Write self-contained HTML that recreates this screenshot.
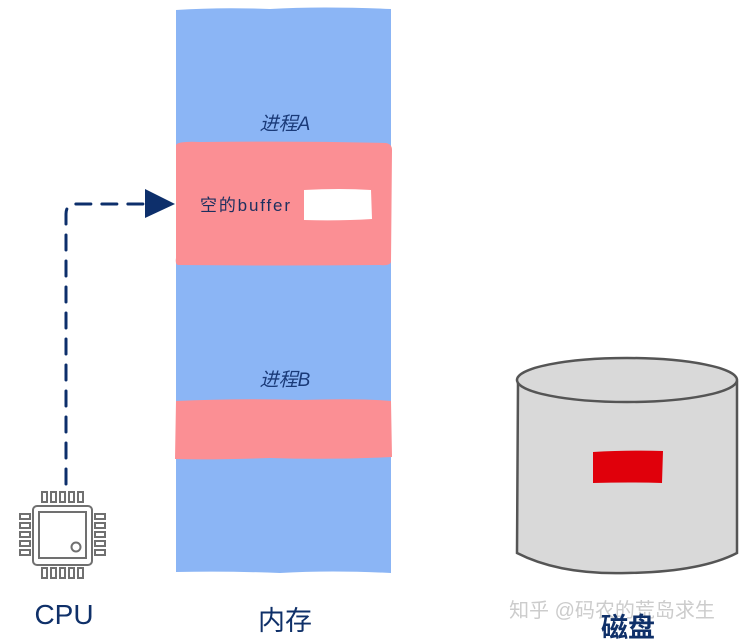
<!DOCTYPE html>
<html><head><meta charset="utf-8">
<style>
html,body{margin:0;padding:0;background:#fff;}
svg{display:block;}
</style></head>
<body>
<svg width="740" height="644" viewBox="0 0 740 644" xmlns="http://www.w3.org/2000/svg">
  <!-- memory column -->
  <path d="M176 10 Q220 7 270 9 Q320 6 391 9 L391 573 Q330 570 280 573 Q230 571 176 572 Z" fill="#8bb5f5"/>
  <!-- process A block -->
  <path d="M176 145 Q178 141 200 142 Q300 141 386 143 Q392 144 392 150 L391 262 Q390 266 380 265 Q280 266 178 265 Q175 264 176 258 Z" fill="#fb8f94"/>
  <path d="M304 190 Q340 188 371 190 L372 219 Q340 221 304 220 Z" fill="#ffffff"/>
  <!-- process B block -->
  <path d="M176 401 Q240 398 300 400 Q360 398 391 401 L392 457 Q330 460 270 458 Q210 460 175 459 Z" fill="#fb8f94"/>

  <text x="285" y="130" font-family="'Liberation Sans','Noto Sans CJK SC',sans-serif" font-size="19" font-style="italic" fill="#1a3a78" text-anchor="middle">进程A</text>
  <text x="200" y="211" font-family="'Liberation Sans','Noto Sans CJK SC',sans-serif" font-size="17" fill="#1c2f5e" textLength="90" lengthAdjust="spacing">空的buffer</text>
  <text x="285" y="386" font-family="'Liberation Sans','Noto Sans CJK SC',sans-serif" font-size="19" font-style="italic" fill="#1a3a78" text-anchor="middle">进程B</text>

  <!-- dashed connector -->
  <path d="M66 484 L66 214 Q66 204 76 204 L146 204" fill="none" stroke="#0d2f6b" stroke-width="3" stroke-dasharray="15 11" stroke-linecap="round"/>
  <polygon points="145,189 175,204 145,218" fill="#0d2f6b"/>

  <!-- CPU chip -->
  <g fill="none" stroke="#707070" stroke-width="2">
    <rect x="33" y="506" width="59" height="59" rx="4"/>
    <rect x="39" y="512" width="47" height="46"/>
    <circle cx="76" cy="547" r="4.5"/>
    <rect x="42" y="492" width="5" height="10"/>
    <rect x="51" y="492" width="5" height="10"/>
    <rect x="60" y="492" width="5" height="10"/>
    <rect x="69" y="492" width="5" height="10"/>
    <rect x="78" y="492" width="5" height="10"/>
    <rect x="42" y="568" width="5" height="10"/>
    <rect x="51" y="568" width="5" height="10"/>
    <rect x="60" y="568" width="5" height="10"/>
    <rect x="69" y="568" width="5" height="10"/>
    <rect x="78" y="568" width="5" height="10"/>
    <rect x="20" y="514" width="10" height="5"/>
    <rect x="20" y="523" width="10" height="5"/>
    <rect x="20" y="532" width="10" height="5"/>
    <rect x="20" y="541" width="10" height="5"/>
    <rect x="20" y="550" width="10" height="5"/>
    <rect x="95" y="514" width="10" height="5"/>
    <rect x="95" y="523" width="10" height="5"/>
    <rect x="95" y="532" width="10" height="5"/>
    <rect x="95" y="541" width="10" height="5"/>
    <rect x="95" y="550" width="10" height="5"/>
  </g>

  <!-- disk cylinder -->
  <path d="M518 382 L517 553 Q560 575 627 573 Q700 572 737 553 L737 382 Z" fill="#d9d9d9" stroke="#555" stroke-width="2.5"/>
  <ellipse cx="627" cy="380" rx="110" ry="22" fill="#d9d9d9" stroke="#555" stroke-width="2.5"/>
  <path d="M593 452 Q630 450 663 451 L662 483 Q630 482 593 483 Z" fill="#e0000b"/>

  <!-- labels -->
  <text x="64" y="624" font-family="'Liberation Sans',sans-serif" font-size="28" fill="#0f3069" text-anchor="middle">CPU</text>
  <text x="285" y="630" font-family="'Liberation Sans','Noto Sans CJK SC',sans-serif" font-size="27" fill="#0f3069" text-anchor="middle">内存</text>
  <text x="612" y="617" font-family="'Liberation Sans','Noto Sans CJK SC',sans-serif" font-size="20" fill="#cccccc" text-anchor="middle">知乎 @码农的荒岛求生</text>
  <text x="628" y="637" font-family="'Liberation Sans','Noto Sans CJK SC',sans-serif" font-size="27" font-weight="bold" fill="#0f3069" text-anchor="middle">磁盘</text>
</svg>
</body></html>
